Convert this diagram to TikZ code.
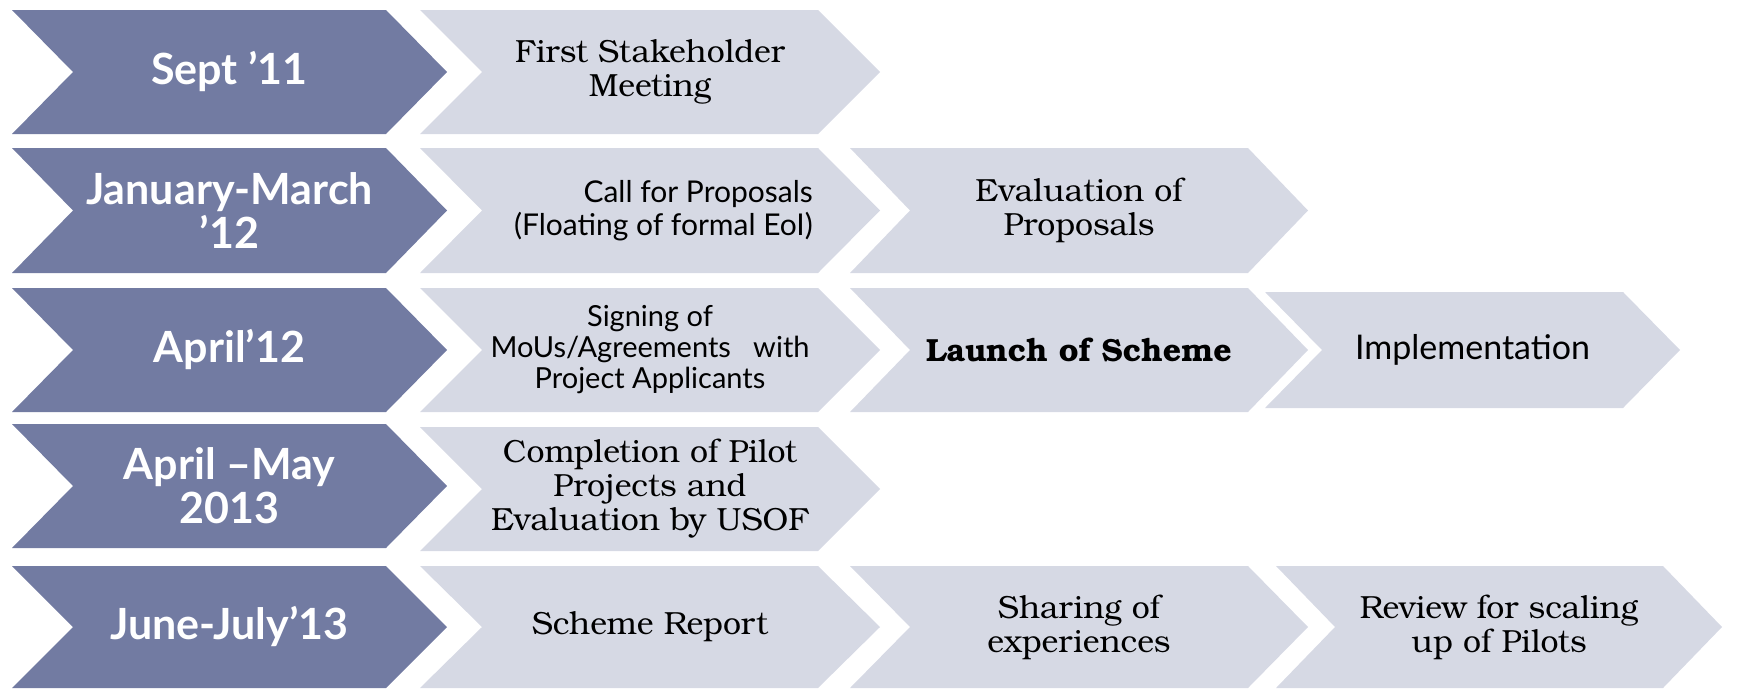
\documentclass[tikz,border=0pt]{standalone}
\usepackage{fontspec}
\setmainfont{Lato}
\newfontfamily\gill{Lato}
\newfontfamily\bk{texgyrebonum}[Extension=.otf,UprightFont=*-regular,BoldFont=*-bold]
\definecolor{darkchev}{RGB}{114,123,162}
\definecolor{lightchev}{RGB}{214,217,228}
\newcommand{\chevron}[7]{%
  \fill[#7] (#2,#3) -- ++(#4-#6,0) -- ++(#6,#5/2) -- ++(-#6,#5/2) -- ++(-#4+#6,0) -- ++(#6,-#5/2) -- cycle;
  \coordinate (#1) at (#2+#4/2,#3+#5/2);}
\tikzset{
  darkfill/.style={fill=darkchev},
  lightfill/.style={fill=lightchev},
  datetext/.style={text=white,align=center,font=\gill\bfseries\fontsize{43}{44}\selectfont,inner sep=0pt},
  serif/.style={text=black,align=center,font=\bk\fontsize{32}{34}\selectfont,inner sep=0pt},
  sans/.style={text=black,align=center,font=\gill\fontsize{29}{31}\selectfont,inner sep=0pt}
}
\begin{document}
\begin{tikzpicture}[x=1pt,y=-1pt]
\useasboundingbox (0,0) rectangle (1737,688);
% dark chevrons
\chevron{d1}{12}{10}{435}{124}{61}{darkfill}
\chevron{d2}{12}{148}{435}{125}{61}{darkfill}
\chevron{d3}{12}{288}{435}{124}{61}{darkfill}
\chevron{d4}{12}{424}{435}{124}{61}{darkfill}
\chevron{d5}{12}{566}{435}{122}{61}{darkfill}
% light chevrons, column 1
\chevron{a1}{420}{10}{460}{124}{62}{lightfill}
\chevron{a2}{420}{148}{460}{125}{62}{lightfill}
\chevron{a3}{420}{288}{460}{124}{62}{lightfill}
\chevron{a4}{420}{427}{460}{124}{62}{lightfill}
\chevron{a5}{420}{566}{460}{122}{62}{lightfill}
% column 2
\chevron{b2}{850}{148}{458}{125}{60}{lightfill}
\chevron{b3}{850}{288}{458}{124}{60}{lightfill}
\chevron{b5}{850}{566}{458}{122}{60}{lightfill}
% column 3
\chevron{c3}{1265}{292}{415}{116}{57}{lightfill}
\chevron{c5}{1276}{566}{446}{122}{59}{lightfill}
% date labels
\node[datetext] (t1) at (d1) {Sept ’11};
\node[datetext] (t2) at (d2) {January-March\\’12};
\node[datetext] (t3) at (d3) {April’12};
\node[datetext] (t4) at (d4) {April –May\\2013};
\node[datetext] (t5) at (d5) {June-July’13};
% activity labels
\node[serif] (s11) at (a1) {First Stakeholder\\Meeting};
\node[sans,align=right,anchor=east,font=\gill\fontsize{30}{33}\selectfont] (s21) at ([xshift=163pt]a2) {Call for Proposals\\(Floating of formal EoI)};
\node[serif] (s22) at (b2) {Evaluation of\\Proposals};
\node[sans] (s31) at (a3) {Signing of\\MoUs/Agreements~~ with\\Project Applicants};
\node[serif,font=\bk\bfseries\fontsize{32}{34}\selectfont] (s32) at (b3) {Launch of Scheme};
\node[sans,font=\gill\fontsize{34}{38}\selectfont] (s33) at (c3) {Implementation};
\node[serif] (s41) at (a4) {Completion of Pilot\\Projects and\\Evaluation by USOF};
\node[serif] (s51) at (a5) {Scheme Report};
\node[serif] (s52) at (b5) {Sharing of\\experiences};
\node[serif] (s53) at (c5) {Review for scaling\\up of Pilots};
\end{tikzpicture}
\end{document}
